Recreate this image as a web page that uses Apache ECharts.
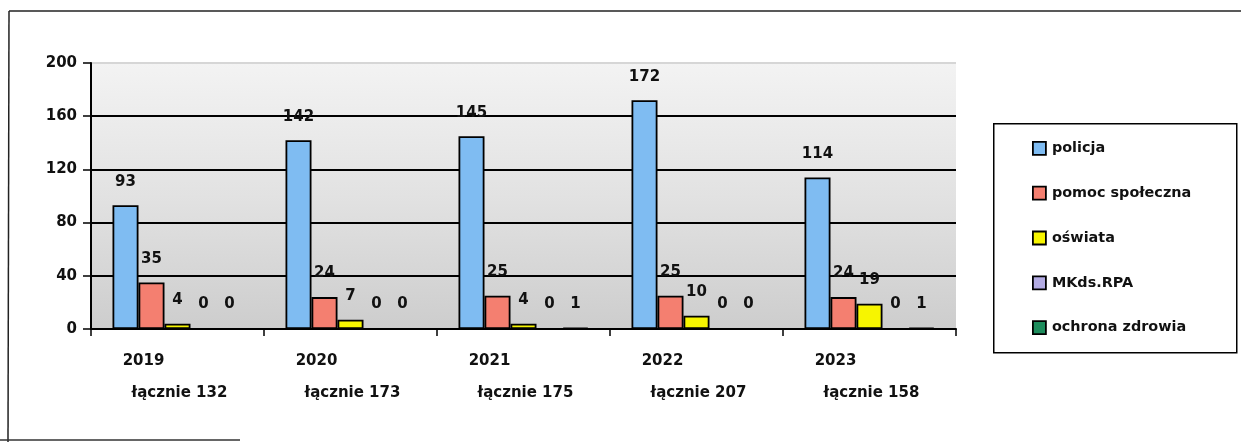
<!DOCTYPE html>
<html>
<head>
<meta charset="utf-8">
<script src="https://cdn.jsdelivr.net/npm/echarts@6/dist/echarts.min.js"></script>
<style>
html,body{margin:0;padding:0;background:#fff;}
#chart{width:1241px;height:442px;}
</style>
</head>
<body>
<div id="chart"></div>
<script>
var years = ['2019', '2020', '2021', '2022', '2023'];
var totals = ['łącznie 132', 'łącznie 173', 'łącznie 175', 'łącznie 207', 'łącznie 158'];
var seriesNames = ['policja', 'pomoc społeczna', 'oświata', 'MKds.RPA', 'ochrona zdrowia'];
var policja = [93, 142, 145, 172, 114];
var pomocSpoleczna = [35, 24, 25, 25, 24];
var oswiata = [4, 7, 4, 10, 19];
var mkdsRpa = [0, 0, 0, 0, 0];
var ochronaZdrowia = [0, 0, 1, 0, 1];
var yTicks = [0, 40, 80, 120, 160, 200];

var colors = ['#7fbcf2', '#f47f70', '#f7f500', '#b3abe3', '#1d8c5c'];
var values = [policja, pomocSpoleczna, oswiata, mkdsRpa, ochronaZdrowia];
var FONT = 'DejaVu Sans';

var categories = years.map(function (y, i) { return y + '|' + totals[i]; });

var chart = echarts.init(document.getElementById('chart'), null, {renderer: 'canvas'});

var series = seriesNames.map(function (name, i) {
  return {
    name: name,
    type: 'bar',
    data: values[i],
    barWidth: 26,
    barGap: '0%',
    itemStyle: {color: colors[i], borderColor: '#000', borderWidth: 1.8},
    label: {
      show: true,
      position: 'top',
      distance: 16,
      color: '#111',
      fontFamily: FONT,
      fontWeight: 'bold',
      fontSize: 15
    }
  };
});

var option = {
  backgroundColor: '#ffffff',
  animation: false,
  color: colors,
  grid: {
    left: 91, right: 285, top: 63, bottom: 113,
    show: true,
    borderWidth: 0,
    backgroundColor: {
      type: 'linear', x: 0, y: 0, x2: 0, y2: 1,
      colorStops: [
        {offset: 0, color: '#f3f3f3'},
        {offset: 0.5, color: '#e2e2e2'},
        {offset: 1, color: '#cdcdcd'}
      ]
    }
  },
  xAxis: {
    type: 'category',
    data: categories,
    boundaryGap: true,
    axisLine: {lineStyle: {color: '#000', width: 2}},
    axisTick: {show: true, length: 7, lineStyle: {color: '#000', width: 1.5}},
    axisLabel: {
      margin: 16,
      interval: 0,
      formatter: function (v) {
        var p = v.split('|');
        return '{a|' + p[0] + '}\n{b|' + p[1] + '}';
      },
      rich: {
        a: {fontFamily: FONT, fontWeight: 'bold', fontSize: 15, color: '#111', lineHeight: 32, padding: [0, 68, 0, 0]},
        b: {fontFamily: FONT, fontWeight: 'bold', fontSize: 15, color: '#111', lineHeight: 32, padding: [0, 0, 0, 4]}
      }
    }
  },
  yAxis: {
    type: 'value',
    min: yTicks[0],
    max: yTicks[yTicks.length - 1],
    interval: 40,
    axisLine: {show: true, lineStyle: {color: '#000', width: 2}},
    axisTick: {show: true, length: 8, lineStyle: {color: '#000', width: 1.5}},
    axisLabel: {
      margin: 14,
      color: '#111',
      fontFamily: FONT,
      fontWeight: 'bold',
      fontSize: 15
    },
    splitLine: {
      show: true,
      lineStyle: {color: ['#000', '#000', '#000', '#000', '#000', '#d6d6d6'], width: 2}
    }
  },
  legend: {
    data: seriesNames,
    orient: 'vertical',
    left: 1032,
    top: 141,
    itemWidth: 13,
    itemHeight: 13,
    itemGap: 30,
    icon: 'rect',
    selectedMode: false,
    padding: 0,
    itemStyle: {borderColor: '#000', borderWidth: 1.8},
    textStyle: {fontFamily: FONT, fontWeight: 'bold', fontSize: 14.4, color: '#111', padding: [0, 0, 0, 1]}
  },
  graphic: [
    {type: 'rect', left: 993, top: 123, shape: {width: 243, height: 229}, style: {fill: 'transparent', stroke: '#000', lineWidth: 1.5}, z: 10},
    {type: 'line', shape: {x1: 9, y1: 11, x2: 1241, y2: 11}, style: {stroke: '#222', lineWidth: 1.5}, z: 10},
    {type: 'line', shape: {x1: 9, y1: 11, x2: 8, y2: 442}, style: {stroke: '#222', lineWidth: 1.5}, z: 10},
    {type: 'line', shape: {x1: 0, y1: 440, x2: 240, y2: 440}, style: {stroke: '#333', lineWidth: 1.5}, z: 10}
  ],
  series: series
};

chart.setOption(option);
</script>
</body>
</html>
